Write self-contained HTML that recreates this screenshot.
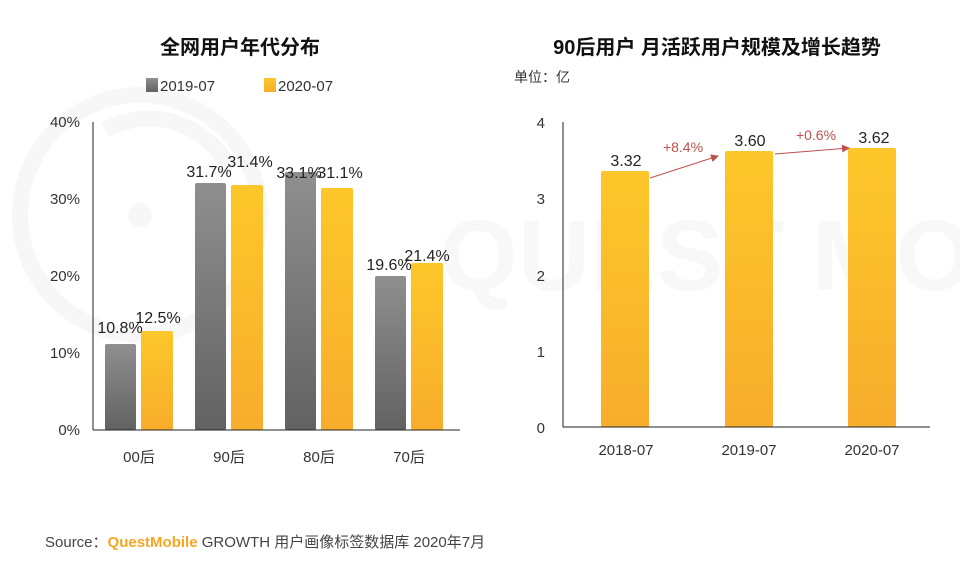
<html><head><style>body{margin:0;background:#fff;font-family:"Liberation Sans","Noto Sans CJK SC",sans-serif}</style></head><body>
<svg width="960" height="566" viewBox="0 0 960 566" xmlns="http://www.w3.org/2000/svg" font-family="Liberation Sans, Noto Sans CJK SC, sans-serif">
<defs>
<linearGradient id="g" x1="0" y1="0" x2="0" y2="1"><stop offset="0" stop-color="#8f8f8f"/><stop offset="1" stop-color="#626262"/></linearGradient>
<linearGradient id="y" x1="0" y1="0" x2="0" y2="1"><stop offset="0" stop-color="#fcc72a"/><stop offset="1" stop-color="#f8ad2c"/></linearGradient>
<marker id="a" markerWidth="8" markerHeight="8" refX="7" refY="4" orient="auto"><path d="M0,0 L8,4 L0,8z" fill="#c0504d"/></marker>
</defs>
<rect width="960" height="566" fill="#fff"/>
<g fill="none" stroke="#f7f7f7" stroke-width="16"><circle cx="140" cy="215" r="120"/><path d="M105 130 A90 90 0 0 1 230 170"/></g>
<circle cx="140" cy="215" r="12" fill="#f7f7f7"/>
<text x="440" y="290" font-size="100" font-weight="bold" fill="#f8f8f8">QUEST MOBILE</text>
<text x="240" y="54" font-size="20" font-weight="bold" text-anchor="middle" fill="#111">全网用户年代分布</text>
<rect x="146" y="78" width="12" height="14" fill="url(#g)"/><text x="160" y="91" font-size="15" fill="#333">2019-07</text>
<rect x="264" y="78" width="12" height="14" fill="url(#y)"/><text x="278" y="91" font-size="15" fill="#333">2020-07</text>
<g font-size="15" fill="#333" text-anchor="end"><text x="80" y="127">40%</text><text x="80" y="204">30%</text><text x="80" y="281">20%</text><text x="80" y="358">10%</text><text x="80" y="435">0%</text></g>
<g>
<rect x="105" y="344" width="31" height="86" fill="url(#g)" rx="2"/><rect x="141" y="331" width="32" height="99" fill="url(#y)" rx="2"/>
<rect x="195" y="183" width="31" height="247" fill="url(#g)" rx="2"/><rect x="231" y="185" width="32" height="245" fill="url(#y)" rx="2"/>
<rect x="285" y="172" width="31" height="258" fill="url(#g)" rx="2"/><rect x="321" y="188" width="32" height="242" fill="url(#y)" rx="2"/>
<rect x="375" y="276" width="31" height="154" fill="url(#g)" rx="2"/><rect x="411" y="263" width="32" height="167" fill="url(#y)" rx="2"/>
</g>
<line x1="93" y1="122" x2="93" y2="430" stroke="#222"/><line x1="93" y1="430" x2="460" y2="430" stroke="#222"/>
<g font-size="16" fill="#222" text-anchor="middle">
<text x="120" y="333">10.8%</text><text x="158" y="323">12.5%</text>
<text x="209" y="177">31.7%</text><text x="250" y="167">31.4%</text>
<text x="299" y="178">33.1%</text><text x="340" y="178">31.1%</text>
<text x="389" y="270">19.6%</text><text x="427" y="261">21.4%</text>
</g>
<g font-size="15" fill="#333" text-anchor="middle"><text x="139" y="462">00后</text><text x="229" y="462">90后</text><text x="319" y="462">80后</text><text x="409" y="462">70后</text></g>
<text x="717" y="54" font-size="20" font-weight="bold" text-anchor="middle" fill="#111">90后用户 月活跃用户规模及增长趋势</text>
<text x="514" y="82" font-size="14" fill="#333">单位：亿</text>
<g font-size="15" fill="#333" text-anchor="end"><text x="545" y="128">4</text><text x="545" y="204">3</text><text x="545" y="281">2</text><text x="545" y="357">1</text><text x="545" y="433">0</text></g>
<rect x="601" y="171" width="48" height="256" fill="url(#y)" rx="2"/>
<rect x="725" y="151" width="48" height="276" fill="url(#y)" rx="2"/>
<rect x="848" y="148" width="48" height="279" fill="url(#y)" rx="2"/>
<line x1="563" y1="122" x2="563" y2="427" stroke="#222"/><line x1="563" y1="427" x2="930" y2="427" stroke="#222"/>
<g font-size="16" fill="#222" text-anchor="middle"><text x="626" y="166">3.32</text><text x="750" y="146">3.60</text><text x="874" y="143">3.62</text></g>
<g font-size="14" fill="#c0504d" text-anchor="middle"><text x="683" y="152">+8.4%</text><text x="816" y="140">+0.6%</text></g>
<line x1="650" y1="178" x2="718" y2="156" stroke="#c0504d" marker-end="url(#a)"/>
<line x1="775" y1="154" x2="849" y2="148" stroke="#c0504d" marker-end="url(#a)"/>
<g font-size="15" fill="#333" text-anchor="middle"><text x="626" y="455">2018-07</text><text x="749" y="455">2019-07</text><text x="872" y="455">2020-07</text></g>
<text x="45" y="547" font-size="15" fill="#444">Source：<tspan fill="#f5a623" font-weight="bold">QuestMobile</tspan> GROWTH 用户画像标签数据库 2020年7月</text>
</svg></body></html>
